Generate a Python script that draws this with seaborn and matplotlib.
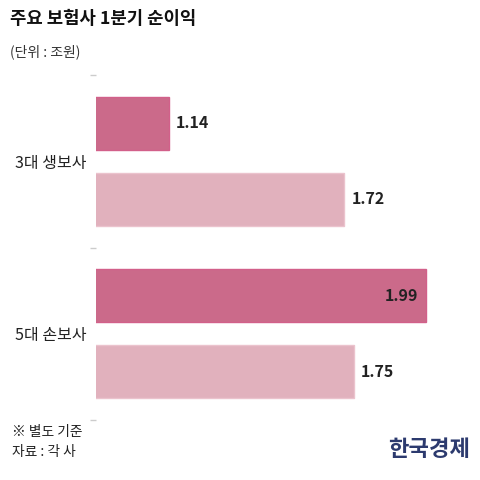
import matplotlib
matplotlib.use("Agg")
import matplotlib.pyplot as plt
import seaborn as sns
import pandas as pd

# Data
categories = ["3대 생보사", "5대 손보사"]
periods = ["올해 1분기", "작년 1분기"]
values_this = [1.14, 1.99]
values_last = [1.72, 1.75]

title = "주요 보험사 1분기 순이익"
unit = "(단위 : 조원)"
note1 = "※ 별도 기준"
note2 = "자료 : 각 사"
logo = "한국경제"

sns.set_theme(style="white")
plt.rcParams['font.family'] = ['Noto Sans CJK KR', 'DejaVu Sans']

df = pd.DataFrame({
    "category": categories * 2,
    "period": [periods[0]] * len(categories) + [periods[1]] * len(categories),
    "value": values_this + values_last,
})

fig = plt.figure(figsize=(4.8, 4.8), dpi=100)
ax = fig.add_axes([0.2, 0.125, 0.76, 0.71875])

palette = {periods[0]: "#CB6A8A", periods[1]: "#E1B1BD"}
sns.barplot(data=df, x="value", y="category", hue="period", order=categories,
            hue_order=periods, palette=palette, orient="h", width=0.88, gap=0.3,
            legend=False, ax=ax, saturation=1)

edge_colors = {0: "#D2608A", 1: "#EBC3CD"}
for i, cont in enumerate(ax.containers):
    for p in cont.patches:
        p.set_edgecolor(edge_colors[i])
        p.set_linewidth(1.0)

ax.set_xlim(0.9, 2.104)
ax.set_ylim(1.5, -0.5)

vmax = max(values_this + values_last)
for cont in ax.containers:
    for p in cont.patches:
        v = p.get_width()
        yc = p.get_y() + p.get_height() / 2
        if v == vmax:
            ax.annotate(f"{v:.2f}", xy=(v, yc), xytext=(-6, 0), textcoords="offset points",
                        ha="right", va="center", fontsize=11.5, fontweight="bold", color="#222222")
        else:
            ax.annotate(f"{v:.2f}", xy=(v, yc), xytext=(5, 0), textcoords="offset points",
                        ha="left", va="center", fontsize=11.5, fontweight="bold", color="#222222")

for s in ax.spines.values():
    s.set_visible(False)
ax.set_xticks([])
ax.set_xlabel("")
ax.set_ylabel("")
ax.set_yticks([-0.5, 0.5, 1.5])
ax.set_yticklabels([])
ax.tick_params(axis="y", which="major", length=4, width=1, color="#CCCCCC", left=True)
ax.set_yticks([0, 1], minor=True)
ax.set_yticklabels(categories, minor=True, fontsize=11.5, color="#222222")
ax.tick_params(axis="y", which="minor", length=0, pad=7)

fig.text(10/480, 1 - 19/480, title, fontsize=12.8, fontweight="bold", color="#111111", va="center", ha="left")
fig.text(10/480, 1 - 52/480, unit, fontsize=10, color="#333333", va="center", ha="left")
fig.text(12/480, 1 - 432/480, note1, fontsize=9.9, color="#222222", va="center", ha="left")
fig.text(12/480, 1 - 452/480, note2, fontsize=9.9, color="#222222", va="center", ha="left")
fig.text(470/480, 1 - 449/480, logo, fontsize=16, fontweight="bold", color="#2C3A6E", va="center", ha="right")

fig.savefig("out.png", dpi=100)
